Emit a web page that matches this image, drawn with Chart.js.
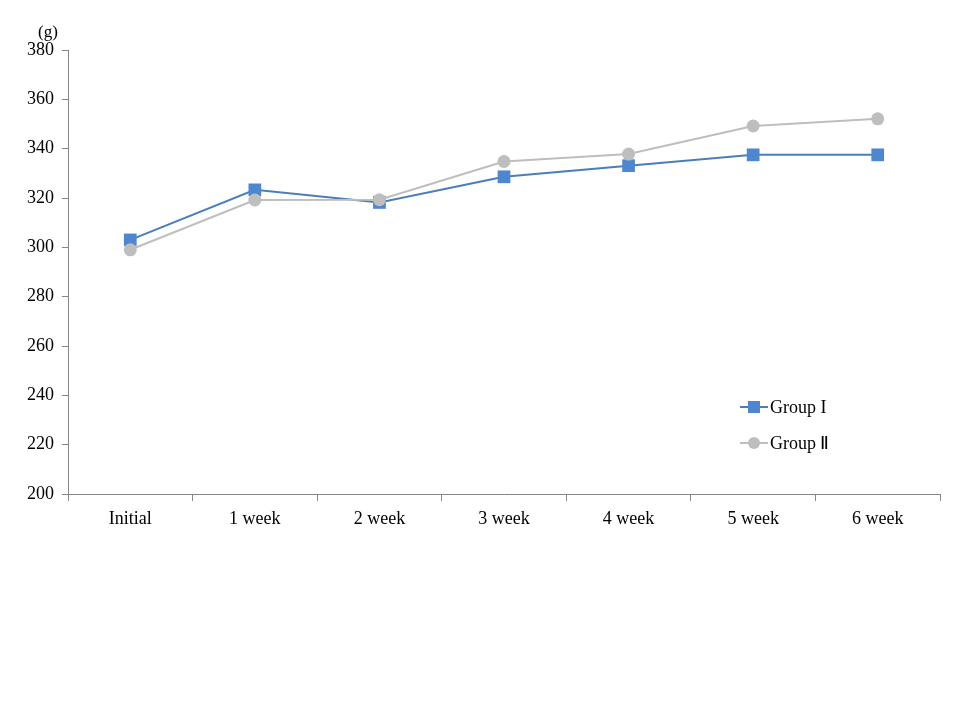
<!DOCTYPE html>
<html>
<head>
<meta charset="utf-8">
<script src="https://cdn.jsdelivr.net/npm/chart.js@4"></script>
<style>
  body { margin: 0; background: #fff; }
  #wrap { width: 960px; height: 720px; }
</style>
</head>
<body>
<div id="wrap"><canvas id="chart" width="960" height="720"></canvas></div>
<script>
var labels = ['Initial', '1 week', '2 week', '3 week', '4 week', '5 week', '6 week'];
var groupOne = [303, 323.3, 318.2, 328.6, 333.1, 337.5, 337.5];
var groupTwo = [299, 319.2, 319.3, 334.8, 337.8, 349.2, 352.1];
var yTicks = [200, 220, 240, 260, 280, 300, 320, 340, 360, 380];

var serif = '"Liberation Serif", "Times New Roman", serif';

// legend box drawn inside the plot, plus the "(g)" unit label
var extras = {
    id: 'extras',
    afterDraw: function(chart) {
        var c = chart.ctx;
        c.save();
        c.font = '17px ' + serif;
        c.fillStyle = '#000';
        c.textBaseline = 'middle';
        c.textAlign = 'left';
        c.fillText('(g)', 38, 33);
        c.font = '18px ' + serif;
        var rows = [407, 443];
        chart.data.datasets.forEach(function(ds, i) {
            var y = rows[i];
            c.strokeStyle = ds.borderColor;
            c.lineWidth = 2;
            c.beginPath();
            c.moveTo(740, y);
            c.lineTo(768, y);
            c.stroke();
            c.fillStyle = ds.backgroundColor;
            if (ds.pointStyle === 'rect') {
                c.fillRect(748, y - 6, 12, 12);
            } else {
                c.beginPath();
                c.arc(754, y, 6, 0, Math.PI * 2);
                c.fill();
            }
            c.fillStyle = '#000';
            c.fillText(ds.label, 770, y + 1);
        });
        c.restore();
    }
};

var ctx = document.getElementById('chart').getContext('2d');
var myChart = new Chart(ctx, {
    type: 'line',
    data: {
        labels: labels,
        datasets: [{
            label: 'Group I',
            data: groupOne,
            order: 2,
            borderColor: '#4A7EBB',
            backgroundColor: '#4F87CF',
            borderWidth: 2,
            pointStyle: 'rect',
            pointRadius: 9,
            pointBorderWidth: 0,
            tension: 0
        }, {
            label: 'Group Ⅱ',
            data: groupTwo,
            order: 1,
            borderColor: '#BEBEBE',
            backgroundColor: '#BEBEBE',
            borderWidth: 2,
            pointStyle: 'circle',
            pointRadius: 6.5,
            pointBorderWidth: 0,
            tension: 0
        }]
    },
    options: {
        responsive: false,
        animation: false,
        layout: { padding: { top: 50, right: 20, left: 0, bottom: 0 } },
        plugins: {
            legend: { display: false },
            tooltip: { enabled: false }
        },
        scales: {
            x: {
                offset: true,
                afterFit: function(scale) { scale.height = 226; },
                grid: {
                    display: true,
                    offset: true,
                    drawOnChartArea: false,
                    drawTicks: true,
                    tickLength: 7,
                    color: '#868686'
                },
                border: { color: '#868686', width: 1 },
                ticks: {
                    color: '#000',
                    font: { family: serif, size: 18 },
                    padding: 7,
                    maxRotation: 0
                }
            },
            y: {
                min: 200,
                max: 380,
                afterFit: function(scale) { scale.width = 68; },
                afterBuildTicks: function(scale) {
                    scale.ticks = yTicks.map(function(v) { return { value: v }; });
                },
                grid: {
                    display: true,
                    drawOnChartArea: false,
                    drawTicks: true,
                    tickLength: 6,
                    color: '#868686'
                },
                border: { color: '#868686', width: 1 },
                ticks: {
                    color: '#000',
                    font: { family: serif, size: 18 },
                    padding: 8
                }
            }
        }
    },
    plugins: [extras]
});
</script>
</body>
</html>
